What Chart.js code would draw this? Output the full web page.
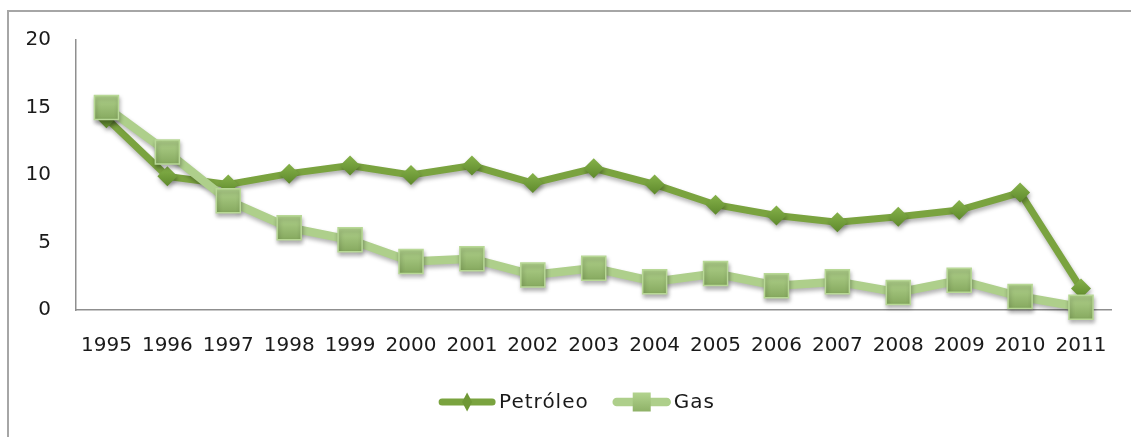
<!DOCTYPE html>
<html>
<head>
<meta charset="utf-8">
<script src="https://cdn.jsdelivr.net/npm/chart.js@4.4.1/dist/chart.umd.min.js"></script>
<style>
  html, body { margin: 0; padding: 0; background: #fff; }
</style>
</head>
<body>
<canvas id="chart" width="1131" height="437"></canvas>
<script>
// Yearly series, one value per year
var years = ['1995', '1996', '1997', '1998', '1999', '2000', '2001', '2002', '2003',
             '2004', '2005', '2006', '2007', '2008', '2009', '2010', '2011'];
var petroleo = [14.2, 9.9, 9.3, 10.1, 10.7, 10.0, 10.7, 9.4, 10.5, 9.3, 7.8, 7.0, 6.5, 6.9, 7.4, 8.7, 1.6];
var gas = [15.0, 11.7, 8.1, 6.1, 5.2, 3.6, 3.8, 2.6, 3.1, 2.1, 2.7, 1.8, 2.1, 1.3, 2.2, 1.0, 0.2];
var yMin = 0;
var yMax = 20;
var yStep = 5;

var FONT = '"DejaVu Sans", sans-serif';

// Vertical gradient for each marker, built around the point's own pixel y
function markerFill(top, bottom, half) {
    return function(c) {
        var scale = c.chart.scales.y;
        if (!scale || c.raw === undefined) return bottom;
        var py = scale.getPixelForValue(c.raw);
        if (!isFinite(py)) return bottom;
        var g = c.chart.ctx.createLinearGradient(0, py - half, 0, py + half);
        g.addColorStop(0, top);
        g.addColorStop(1, bottom);
        return g;
    };
}

// Soft drop shadow under lines and markers
var shadowPlugin = {
    id: 'markShadow',
    beforeDatasetsDraw: function(chart) {
        var ctx = chart.ctx;
        ctx.save();
        ctx.shadowColor = 'rgba(0,0,0,0.3)';
        ctx.shadowBlur = 4;
        ctx.shadowOffsetX = 1;
        ctx.shadowOffsetY = 3;
    },
    afterDatasetsDraw: function(chart) {
        chart.ctx.restore();
    }
};

// Left and top frame lines around the whole chart
var framePlugin = {
    id: 'frame',
    beforeDraw: function(chart) {
        var ctx = chart.ctx;
        ctx.save();
        ctx.strokeStyle = '#a6a6a6';
        ctx.lineWidth = 2;
        ctx.beginPath();
        ctx.moveTo(8, chart.height);
        ctx.lineTo(8, 11);
        ctx.lineTo(chart.width, 11);
        ctx.stroke();
        ctx.restore();
    }
};

// Legend with a line sample and the marker in the middle of it
var legendPlugin = {
    id: 'lineLegend',
    afterDraw: function(chart) {
        var ctx = chart.ctx;
        var sample = 58, gapText = 3, gapItem = 24, y = 402;
        var order = [1, 0];
        ctx.save();
        ctx.font = '20px ' + FONT;
        ctx.letterSpacing = '1px';
        var widths = order.map(function(i) {
            return sample + gapText + ctx.measureText(chart.data.datasets[i].label).width;
        });
        var total = widths[0] + widths[1] + gapItem;
        var x = (chart.width + 22) / 2 - total / 2;
        order.forEach(function(i, k) {
            var ds = chart.data.datasets[i];
            ctx.strokeStyle = ds.borderColor;
            ctx.lineWidth = ds.borderWidth;
            ctx.lineCap = 'round';
            ctx.beginPath();
            ctx.moveTo(x + 4, y);
            ctx.lineTo(x + sample - 4, y);
            ctx.stroke();
            var cx = x + sample / 2;
            if (ds.pointStyle === 'rectRot') {
                ctx.fillStyle = '#6f9836';
                ctx.beginPath();
                ctx.moveTo(cx, y - 9.5);
                ctx.lineTo(cx + 5, y);
                ctx.lineTo(cx, y + 9.5);
                ctx.lineTo(cx - 5, y);
                ctx.closePath();
                ctx.fill();
            } else {
                var g = ctx.createLinearGradient(0, y - 9, 0, y + 9);
                g.addColorStop(0, '#b2d38e');
                g.addColorStop(1, '#8fb268');
                ctx.fillStyle = g;
                ctx.fillRect(cx - 9, y - 9.5, 18, 19);
            }
            ctx.fillStyle = '#1a1a1a';
            ctx.textBaseline = 'middle';
            ctx.textAlign = 'left';
            ctx.fillText(ds.label, x + sample + gapText, y + 1);
            x += widths[k] + gapItem;
        });
        ctx.restore();
    }
};

var ctx = document.getElementById('chart').getContext('2d');
var myChart = new Chart(ctx, {
    type: 'line',
    data: {
        labels: years,
        datasets: [{
            label: 'Gas',
            data: gas,
            order: 0,
            clip: false,
            borderColor: '#aecf8b',
            borderWidth: 8.5,
            tension: 0,
            pointStyle: 'rect',
            pointRadius: 17,
            pointBorderWidth: 1.5,
            pointBorderColor: '#b8d896',
            pointBackgroundColor: markerFill('#b0d18b', '#86a95f', 12)
        }, {
            label: 'Petróleo',
            data: petroleo,
            order: 1,
            clip: false,
            borderColor: '#7aa33f',
            borderWidth: 7,
            tension: 0,
            pointStyle: 'rectRot',
            pointRadius: 10,
            pointBorderWidth: 0,
            pointBackgroundColor: markerFill('#86b24a', '#5e892c', 10)
        }]
    },
    options: {
        responsive: false,
        animation: false,
        events: [],
        layout: { padding: { left: 0, top: 40, right: 18, bottom: 0 } },
        plugins: {
            legend: { display: false },
            tooltip: { enabled: false }
        },
        scales: {
            x: {
                offset: true,
                grid: { display: false, drawTicks: false },
                border: { display: true, color: '#8f8f8f', width: 1.5 },
                ticks: {
                    color: '#1a1a1a',
                    padding: 24,
                    maxRotation: 0,
                    autoSkip: false,
                    font: { family: FONT, size: 20 }
                },
                afterFit: function(scale) { scale.height = 127; }
            },
            y: {
                min: yMin,
                max: yMax,
                grid: { display: false, drawTicks: false },
                border: { display: true, color: '#8f8f8f', width: 1.5 },
                ticks: {
                    stepSize: yStep,
                    color: '#1a1a1a',
                    padding: 25,
                    font: { family: FONT, size: 20 }
                },
                afterFit: function(scale) { scale.width = 76; }
            }
        }
    },
    plugins: [framePlugin, shadowPlugin, legendPlugin]
});
</script>
</body>
</html>
